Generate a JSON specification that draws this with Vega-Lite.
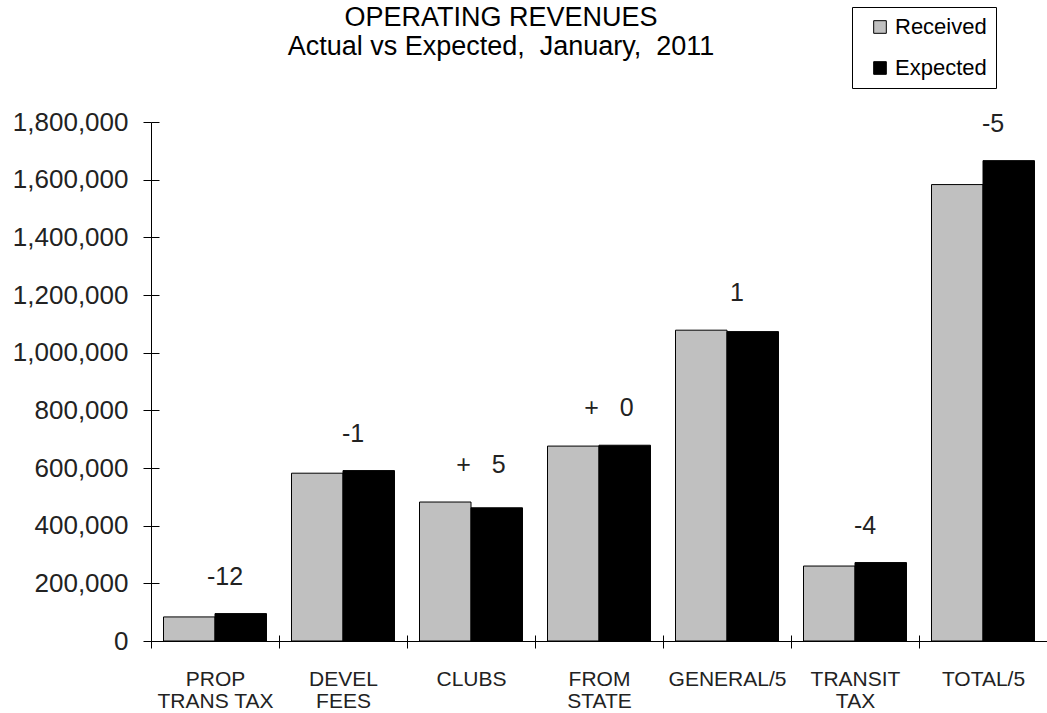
{
  "$schema": "https://vega.github.io/schema/vega-lite/v6.json",
  "autosize": "none",
  "padding": {"left": 151, "top": 122, "right": 0, "bottom": 72},
  "width": 896,
  "height": 519,
  "background": "white",
  "config": {
    "view": {"stroke": null},
    "font": "Liberation Sans",
    "axis": {"grid": false, "title": null, "domainColor": "black", "tickColor": "black", "domainWidth": 1, "tickWidth": 1}
  },
  "title": {
    "text": ["OPERATING REVENUES", "Actual vs Expected,\u00a0 January,\u00a0 2011"],
    "anchor": "middle",
    "frame": "group",
    "dx": -98,
    "offset": -54,
    "fontSize": 27,
    "fontWeight": "normal",
    "lineHeight": 29,
    "color": "black",
    "font": "Liberation Sans"
  },
  "data": {
    "values": [
      {"category": "PROP\nTRANS TAX", "Received": 83500, "Expected": 95000, "label": "-12"},
      {"category": "DEVEL\nFEES", "Received": 582000, "Expected": 591000, "label": "-1"},
      {"category": "CLUBS", "Received": 482000, "Expected": 462000, "label": "+\u00a0\u00a0 5"},
      {"category": "FROM\nSTATE", "Received": 676000, "Expected": 679000, "label": "+\u00a0\u00a0 0"},
      {"category": "GENERAL/5", "Received": 1078000, "Expected": 1073000, "label": "1"},
      {"category": "TRANSIT\nTAX", "Received": 260000, "Expected": 272000, "label": "-4"},
      {"category": "TOTAL/5", "Received": 1583000, "Expected": 1666000, "label": "-5"}
    ]
  },
  "transform": [{"fold": ["Received", "Expected"], "as": ["series", "value"]}],
  "resolve": {"axis": {"x": "independent", "y": "independent"}},
  "layer": [
    {
      "mark": {"type": "bar", "stroke": "black", "strokeWidth": 1},
      "encoding": {
        "x": {
          "field": "category", "type": "nominal", "sort": null,
          "scale": {"paddingInner": 0, "paddingOuter": 0},
          "axis": {
            "orient": "bottom", "tickBand": "extent", "tickSize": 7, "labelAngle": 0,
            "labelExpr": "split(datum.label, '\\n')",
            "labelFontSize": 21, "labelLineHeight": 22, "labelPadding": 20, "labelColor": "#222",
            "labelFont": "Liberation Sans"
          }
        },
        "xOffset": {
          "field": "series", "type": "nominal", "sort": ["Received", "Expected"],
          "scale": {"paddingInner": 0, "paddingOuter": 0.243}
        },
        "y": {
          "field": "value", "type": "quantitative",
          "scale": {"domain": [0, 1800000], "nice": false},
          "axis": {
            "orient": "left", "values": [0, 200000, 400000, 600000, 800000, 1000000, 1200000, 1400000, 1600000, 1800000],
            "format": ",d", "tickSize": 8, "labelFontSize": 26, "labelPadding": 15, "labelColor": "#222",
            "labelFont": "Liberation Sans"
          }
        },
        "color": {
          "field": "series", "type": "nominal",
          "scale": {"domain": ["Received", "Expected"], "range": ["#c0c0c0", "#000000"]},
          "legend": {
            "title": null, "orient": "none", "legendX": 701, "legendY": -115,
            "strokeColor": "black", "fillColor": "white", "padding": 9,
            "labelFontSize": 22, "labelFont": "Liberation Sans", "labelColor": "black",
            "symbolType": "square", "symbolSize": 160, "symbolStrokeColor": "black", "symbolStrokeWidth": 1,
            "rowPadding": 19, "symbolOffset": 8, "labelOffset": 4
          }
        }
      }
    },
    {
      "transform": [{"aggregate": [{"op": "max", "field": "value", "as": "value"}], "groupby": ["category", "label"]}],
      "mark": {"type": "text", "fontSize": 25, "font": "Liberation Sans", "color": "#222", "baseline": "middle", "dy": -37, "dx": 10},
      "encoding": {
        "x": {
          "field": "category", "type": "nominal", "sort": null,
          "axis": {"orient": "top", "offset": -519, "tickBand": "extent", "tickSize": 6, "labels": false, "domain": false}
        },
        "y": {
          "field": "value", "type": "quantitative",
          "axis": {
            "orient": "right", "offset": -896, "values": [0, 200000, 400000, 600000, 800000, 1000000, 1200000, 1400000, 1600000, 1800000],
            "tickSize": 8, "labels": false, "domain": false
          }
        },
        "text": {"field": "label", "type": "nominal"}
      }
    }
  ]
}
